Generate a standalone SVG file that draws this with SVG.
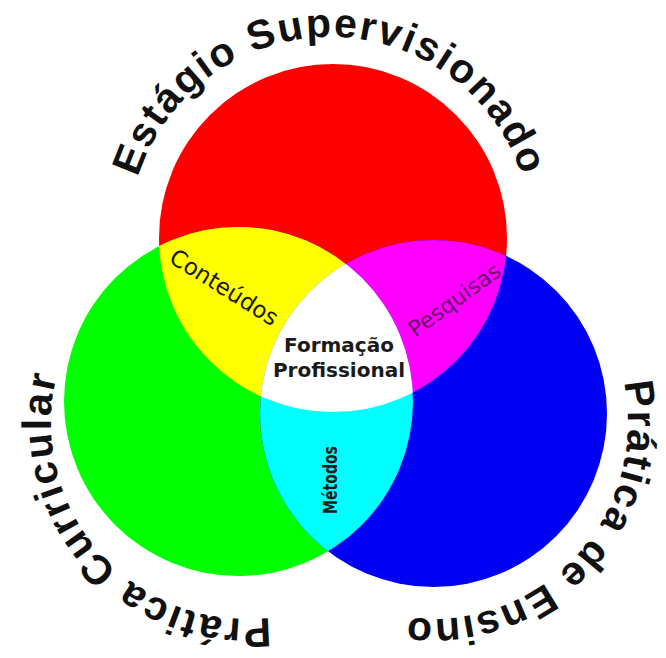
<svg xmlns="http://www.w3.org/2000/svg" width="666" height="658" viewBox="0 0 666 658">
  <style>
    .outer { font-family: "Liberation Sans", Arial, sans-serif; font-weight: bold; font-size: 41px; fill: #111; }
    .lbl { font-family: "DejaVu Sans", "Liberation Sans", sans-serif; fill: #1a1a1a; }
  </style>
  <defs>
    <clipPath id="cR"><circle cx="333" cy="238" r="174"/></clipPath>
    <clipPath id="cG"><circle cx="238.5" cy="401.5" r="174.5"/></clipPath>
    <path id="arcTop" d="M140.2,308.1 A202,202 0 1 1 519.8,308.1"/>
    <path id="arcLeft" d="M399.9,545.5 A196,196 0 1 1 145.1,255.5"/>
    <path id="arcRight" d="M538.2,258.2 A196,196 0 1 1 275.9,541.5"/>
  </defs>
  <rect width="666" height="658" fill="#ffffff"/>

  <g id="circles">
    <g id="estagio"><circle cx="333" cy="238" r="174" fill="#ff0000"/></g>
    <g id="curricular"><circle cx="238.5" cy="401.5" r="174.5" fill="#00ff00"/></g>
    <g id="ensino"><circle cx="433.5" cy="413.5" r="173.5" fill="#0000f2"/></g>
    <g id="conteudos-region" clip-path="url(#cR)"><circle cx="238.5" cy="401.5" r="174.5" fill="#ffff00"/></g>
    <g id="pesquisas-region" clip-path="url(#cR)"><circle cx="433.5" cy="413.5" r="173.5" fill="#ff00ff"/></g>
    <g id="metodos-region" clip-path="url(#cG)"><circle cx="433.5" cy="413.5" r="173.5" fill="#00ffff"/></g>
    <g id="formacao-region" clip-path="url(#cR)"><g clip-path="url(#cG)"><circle cx="433.5" cy="413.5" r="173.5" fill="#ffffff"/></g></g>
  </g>

  <g id="labels">
    <text class="outer" letter-spacing="1.9"><textPath href="#arcTop" startOffset="50%" text-anchor="middle">Estágio Supervisionado</textPath></text>
    <text class="outer" letter-spacing="2"><textPath href="#arcLeft" startOffset="50%" text-anchor="middle">Prática Curricular</textPath></text>
    <text class="outer" letter-spacing="1.8"><textPath href="#arcRight" startOffset="50%" text-anchor="middle">Prática de Ensino</textPath></text>

    <text class="lbl" font-size="23" text-anchor="middle" transform="translate(220,294) rotate(32)">Conteúdos</text>
    <text class="lbl" font-size="22" text-anchor="middle" style="fill:#6a0a6a" transform="translate(459,306) rotate(-36)">Pesquisas</text>
    <text class="lbl" font-size="20" font-weight="bold" text-anchor="middle" x="339" y="352">Formação</text>
    <text class="lbl" font-size="20" font-weight="bold" text-anchor="middle" x="339" y="377">Profissional</text>
    <text class="lbl" font-size="19" font-weight="bold" text-anchor="middle" textLength="68" lengthAdjust="spacingAndGlyphs" transform="translate(337,480) rotate(-90)">Métodos</text>
  </g>
</svg>
